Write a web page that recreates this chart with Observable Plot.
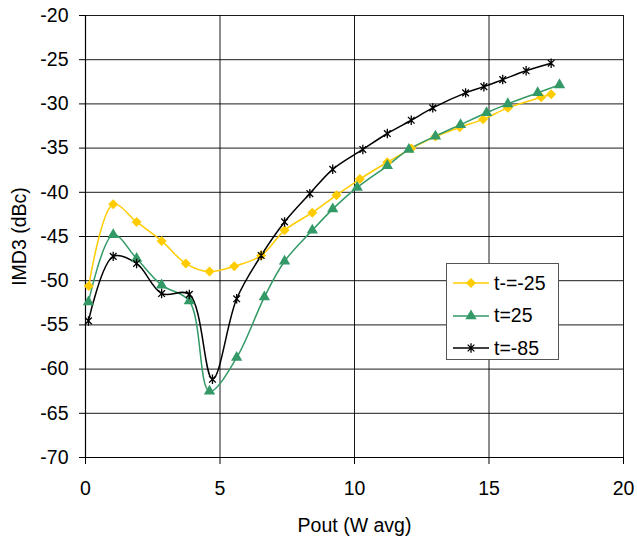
<!DOCTYPE html>
<html><head><meta charset="utf-8">
<script src="https://cdn.jsdelivr.net/npm/d3@7"></script>
<script src="https://cdn.jsdelivr.net/npm/@observablehq/plot@0.6"></script>
<style>
body{margin:0;background:#fff;}
#wrap{position:relative;width:637px;height:538px;}
#legend{position:absolute;left:446px;top:263px;width:113px;height:97px;border:1px solid #555;background:#fff;box-sizing:border-box;font-family:"Liberation Sans",Arial,sans-serif;font-size:19.5px;padding-top:3px;}
#legend .row{display:flex;align-items:center;height:32.5px;}
#legend svg{margin-left:6px;margin-right:5px;}
</style></head><body><div id="wrap"></div>
<script>
const seriesNames = ["t-=-25", "t=25", "t=-85"];
const seriesColors = ["#FFCC00", "#339966", "#000000"];

const xTm25 = [0.12, 1.03, 1.9, 2.83, 3.73, 4.61, 5.53, 6.53, 7.4, 8.43, 9.33, 10.2, 11.22, 12.11, 13.01, 13.91, 14.78, 15.7, 16.94, 17.31];
const yTm25 = [-50.6, -41.35, -43.35, -45.5, -48.06, -48.97, -48.37, -47.16, -44.3, -42.3, -40.33, -38.5, -36.6, -35.05, -33.7, -32.65, -31.75, -30.45, -29.25, -28.9];

const xT25 = [0.11, 1.03, 1.9, 2.83, 3.86, 4.61, 5.62, 6.65, 7.4, 8.43, 9.19, 10.1, 11.22, 12.02, 13.01, 13.94, 14.91, 15.7, 16.81, 17.62];
const yT25 = [-52.4, -44.8, -47.5, -50.5, -52.3, -62.5, -58.7, -51.85, -47.8, -44.3, -41.9, -39.45, -37.0, -35.15, -33.65, -32.35, -31.0, -30.0, -28.75, -27.85];

const xTm85 = [0.11, 1.03, 1.9, 2.83, 3.86, 4.72, 5.62, 6.53, 7.4, 8.34, 9.19, 10.31, 11.22, 12.11, 12.91, 14.13, 14.81, 15.51, 16.38, 17.31];
const yTm85 = [-54.55, -47.25, -48.05, -51.45, -51.55, -61.15, -52.05, -47.15, -43.35, -40.15, -37.4, -35.15, -33.35, -31.85, -30.45, -28.75, -28.05, -27.25, -26.25, -25.4];

const xTicks = [0, 5, 10, 15, 20];
const yTicks = [-70, -65, -60, -55, -50, -45, -40, -35, -30, -25, -20];

const toRows = (name, xs, ys) => xs.map((x, i) => ({series: name, x, y: ys[i]}));
const dTm25 = toRows(seriesNames[0], xTm25, yTm25);
const dT25 = toRows(seriesNames[1], xT25, yT25);
const dTm85 = toRows(seriesNames[2], xTm85, yTm85);

const starSymbol = {
  draw(ctx, size) {
    const r = Math.sqrt(size) * 0.62;
    const d = r * 0.7071;
    ctx.moveTo(0, -r); ctx.lineTo(0, r);
    ctx.moveTo(-d, -d); ctx.lineTo(d, d);
    ctx.moveTo(-d, d); ctx.lineTo(d, -d);
  }
};

const font = "Liberation Sans, Arial, sans-serif";

const chart = Plot.plot({
  width: 637,
  height: 538,
  marginLeft: 85,
  marginRight: 14,
  marginTop: 15,
  marginBottom: 81,
  style: {fontFamily: font, fontSize: "19.5px", background: "#fff", color: "#000"},
  x: {domain: [0, 20]},
  y: {domain: [-70, -20]},
  color: {domain: seriesNames, range: seriesColors},
  marks: [
    Plot.gridX(xTicks, {stroke: "#000", strokeOpacity: 1, strokeWidth: 0.9}),
    Plot.gridY(yTicks, {stroke: "#000", strokeOpacity: 1, strokeWidth: 0.9}),
    Plot.ruleX([0], {stroke: "#000", strokeWidth: 1.2}),
    Plot.ruleY([-70], {stroke: "#000", strokeWidth: 1.2}),
    Plot.axisX(xTicks, {tickSize: 7, tickPadding: 17, fontSize: 19.5, tickFormat: d => String(d), label: "Pout (W avg)", labelAnchor: "center", labelArrow: false, labelOffset: 74}),
    Plot.axisY(yTicks, {tickSize: 6, tickPadding: 11, fontSize: 19.5, tickFormat: d => String(d), label: "IMD3 (dBc)", labelAnchor: "center", labelArrow: false, labelOffset: 73}),
    Plot.line(dTm25, {x: "x", y: "y", stroke: "series", curve: "catmull-rom", strokeWidth: 1.5}),
    Plot.line(dT25, {x: "x", y: "y", stroke: "series", curve: "catmull-rom", strokeWidth: 1.5}),
    Plot.line(dTm85, {x: "x", y: "y", stroke: "series", curve: "catmull-rom", strokeWidth: 1.5}),
    Plot.dot(dTm25, {x: "x", y: "y", fill: "series", stroke: "none", symbol: "diamond2", r: 4.5}),
    Plot.dot(dT25, {x: "x", y: "y", fill: "series", stroke: "none", symbol: "triangle", r: 4.2}),
    Plot.dot(dTm85, {x: "x", y: "y", stroke: "series", fill: "none", symbol: starSymbol, r: 4.3, strokeWidth: 1.3})
  ]
});

const wrap = document.getElementById("wrap");
wrap.appendChild(chart);

// Legend
const legend = document.createElement("div");
legend.id = "legend";
const legendSymbols = [d3.symbolDiamond2, d3.symbolTriangle, starSymbol];
const legendSizes = [64, 55, 58];
seriesNames.forEach((name, i) => {
  const row = document.createElement("div");
  row.className = "row";
  const svg = d3.create("svg").attr("width", 36).attr("height", 14);
  svg.append("line").attr("x1", 0).attr("x2", 36).attr("y1", 7).attr("y2", 7)
    .attr("stroke", seriesColors[i]).attr("stroke-width", 1.5);
  const p = svg.append("path").attr("transform", "translate(18,7)")
    .attr("d", d3.symbol(legendSymbols[i], legendSizes[i])());
  if (i === 2) p.attr("fill", "none").attr("stroke", seriesColors[i]).attr("stroke-width", 1.3);
  else p.attr("fill", seriesColors[i]);
  row.appendChild(svg.node());
  const span = document.createElement("span");
  span.textContent = name;
  row.appendChild(span);
  legend.appendChild(row);
});
wrap.appendChild(legend);
</script>
</body></html>
